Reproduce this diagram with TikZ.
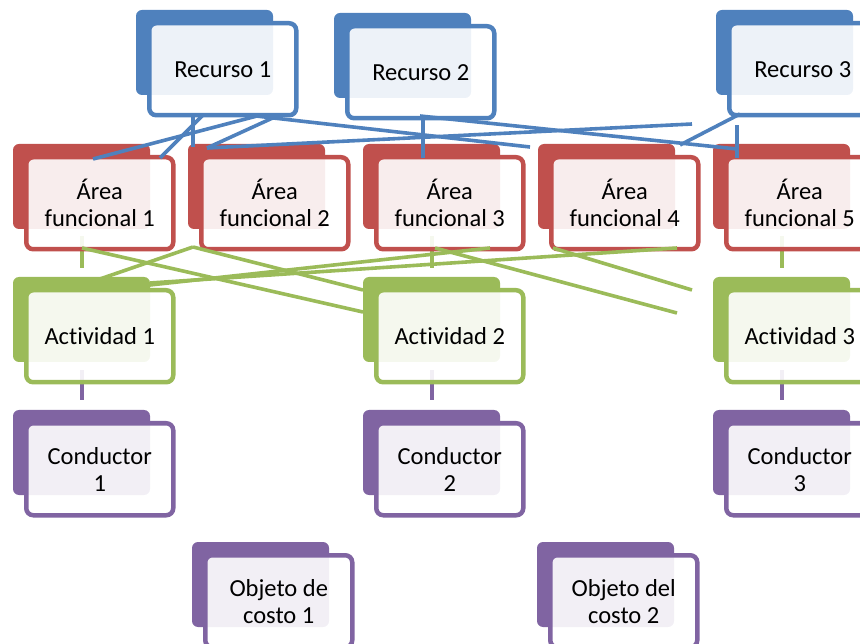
\documentclass[tikz,border=0pt]{standalone}
\usepackage{fontspec}
\setmainfont{Carlito}[Ligatures={NoCommon,NoContextual}]
\definecolor{cblue}{HTML}{4F81BD}
\definecolor{cred}{HTML}{C0504D}
\definecolor{cgreen}{HTML}{9BBB59}
\definecolor{cpurple}{HTML}{8064A2}
\tikzset{
  cardfront/.style={rectangle, rounded corners=7pt, line width=4.5pt,
    fill=white, fill opacity=0.9, text opacity=1,
    minimum width=147pt, minimum height=92pt, inner sep=0pt,
    align=center, anchor=north west,
    font=\fontsize{24.5}{27}\selectfont},
  link/.style={line width=3.6pt},
}
% card: back plate + front panel; #1 name, #2 x, #3 y (front top-left), #4 colour, #5 text
\newcommand\cardbox[5]{%
  \fill[#4, rounded corners=6pt] (#2-11,#3-11) rectangle ++(137,85);
  \node[cardfront, draw=#4] (#1) at (#2,#3) {#5};
}
% keep "t" and "i" apart
\newcommand\actv{Act\kern0pt ividad}
\begin{document}
\begin{tikzpicture}[x=1pt,y=-1pt]
\useasboundingbox (0,0) rectangle (860,644);
\clip (0,0) rectangle (860,644);

% short vertical ties between levels (partly under the front panels)
\foreach \c/\x in {g1/82,g2/432,g3/782}{
  \coordinate (\c t) at (\x,236); \coordinate (\c b) at (\x,268);
  \draw[link, cgreen] (\c t) -- (\c b);
}
\foreach \c/\x in {p1/82,p2/432,p3/782}{
  \coordinate (\c t) at (\x,370); \coordinate (\c b) at (\x,400);
  \draw[link, cpurple] (\c t) -- (\c b);
}

% resources
\cardbox{rec1}{147}{21}{cblue}{Recurso 1}
\cardbox{rec2}{345}{24}{cblue}{Recurso 2}
\cardbox{rec3}{727}{21}{cblue}{Recurso 3}
% functional areas
\cardbox{area1}{24}{155}{cred}{Área\\funcional 1}
\cardbox{area2}{199}{155}{cred}{Área\\funcional 2}
\cardbox{area3}{374}{155}{cred}{Área\\funcional 3}
\cardbox{area4}{549}{155}{cred}{Área\\funcional 4}
\cardbox{area5}{724}{155}{cred}{Área\\funcional 5}
% activities
\cardbox{act1}{24}{288}{cgreen}{\actv{} 1}
\cardbox{act2}{374}{288}{cgreen}{\actv{} 2}
\cardbox{act3}{724}{288}{cgreen}{\actv{} 3}
% drivers
\cardbox{cond1}{24}{421}{cpurple}{Conductor\\1}
\cardbox{cond2}{374}{421}{cpurple}{Conductor\\2}
\cardbox{cond3}{724}{421}{cpurple}{Conductor\\3}
% cost objects
\cardbox{obj1}{203}{553}{cpurple}{Objeto de\\costo 1}
\cardbox{obj2}{548}{553}{cpurple}{Objeto del\\costo 2}

% resource -> area links
\coordinate (ba1) at (93,159);   \coordinate (br1) at (257,116);
\coordinate (ba2) at (160,158);  \coordinate (br2) at (203,115);
\coordinate (ba3) at (193,147);  \coordinate (br3) at (193,115);
\coordinate (ba4) at (207,148);  \coordinate (br4) at (277,116);
\coordinate (bx5) at (692,124);
\coordinate (ba6) at (530,147);  \coordinate (br6) at (247,115);
\coordinate (ba7) at (737,149);  \coordinate (br7) at (420,116);
\coordinate (ba8) at (423,158);  \coordinate (br8) at (423,116);
\coordinate (ba9) at (680,145);  \coordinate (br9) at (740,114);
\coordinate (ba10) at (737,158); \coordinate (br10) at (737,125);
\foreach \a/\b in {ba1/br1,ba2/br2,ba3/br3,ba4/br4,ba4/bx5,ba6/br6,ba7/br7,ba8/br8,ba9/br9,ba10/br10}
  \draw[link, cblue] (\a) -- (\b);

% area -> activity links
\coordinate (ga1) at (82,248);   \coordinate (gc1) at (363,312);
\coordinate (ga2) at (193,247);  \coordinate (gc2) at (97,280);
\coordinate (gc3) at (363,290);
\coordinate (ga4) at (490,248);  \coordinate (gc4) at (150,285);
\coordinate (ga5) at (677,248);  \coordinate (gc5) at (150,283);
\coordinate (ga6) at (435,248);  \coordinate (gc6) at (677,313);
\coordinate (ga7) at (553,248);  \coordinate (gc7) at (692,290);
\foreach \a/\b in {ga1/gc1,ga2/gc2,ga2/gc3,ga4/gc4,ga5/gc5,ga6/gc6,ga7/gc7}
  \draw[link, cgreen] (\a) -- (\b);
\end{tikzpicture}
\end{document}
